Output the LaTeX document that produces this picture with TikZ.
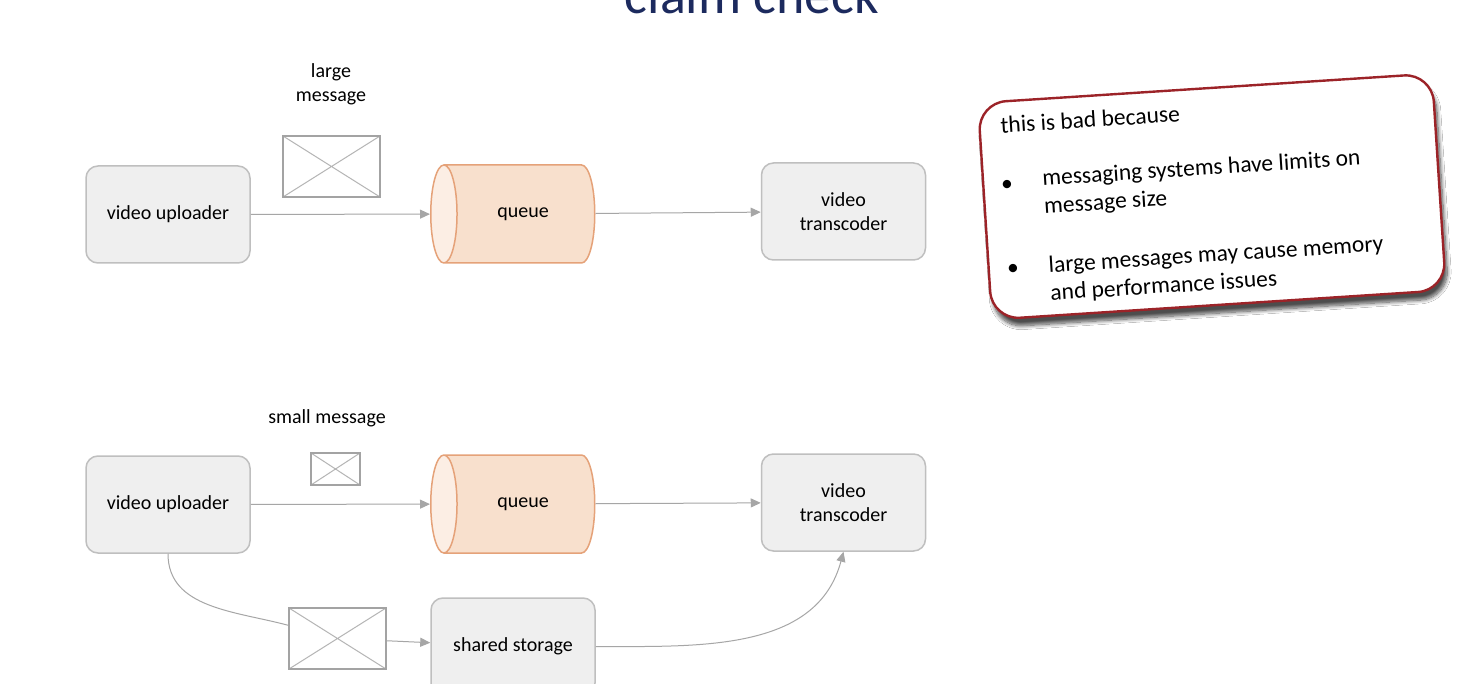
\documentclass[tikz,border=0pt]{standalone}
\usepackage{fontspec}
\setmainfont{Carlito}
\usetikzlibrary{shapes.geometric,arrows.meta,shadows.blur}
\definecolor{titleblue}{HTML}{1C2A5E}
\definecolor{boxfill}{HTML}{EFEFEF}
\definecolor{boxline}{HTML}{BFBFBF}
\definecolor{qfill}{HTML}{F8E0CD}
\definecolor{qend}{HTML}{FCEEE4}
\definecolor{qline}{HTML}{E5A279}
\definecolor{linegray}{HTML}{A6A6A6}
\definecolor{msgline}{HTML}{A3A3A3}
\definecolor{notered}{HTML}{9C2328}

\begin{document}
\begin{tikzpicture}[x=0.5pt, y=-0.5pt,
    txt/.style={font=\fontsize{10}{12}\selectfont, align=center},
    svc/.style={txt, draw=boxline, line width=0.75pt, fill=boxfill, rounded corners=6pt,
      minimum width=82pt, minimum height=48.5pt},
    queue/.style={txt, cylinder, shape border rotate=180, aspect=1, draw=qline,
      line width=0.75pt, cylinder uses custom fill, cylinder body fill=qfill,
      cylinder end fill=qend, minimum width=49pt, minimum height=82pt},
    msg/.style={draw=msgline, line width=1pt, fill=white, inner sep=0pt,
      path picture={\draw[msgline!80, line width=0.5pt]
        (path picture bounding box.north west) -- (path picture bounding box.south east)
        (path picture bounding box.south west) -- (path picture bounding box.north east);}},
    conn/.style={draw=linegray, line width=0.5pt, -{Triangle[length=5pt,width=4.5pt]}},
    link/.style={draw=linegray, line width=0.5pt},
    notetxt/.style={font=\fontsize{11.75}{14}\selectfont, align=left, transform shape, inner sep=0pt}]
    \fill[white] (0,0) rectangle (1473,684);
    \useasboundingbox (0,0) rectangle (1473,684);

    \node[anchor=base, text=titleblue, font=\fontsize{27}{32}\selectfont] (title) at (752,14) {claim check};

    % with a large message
    \node[txt] (lbl1) at (331,84) {large\\message};
    \node[msg, minimum width=48.5pt, minimum height=30.5pt] (m1) at (331.5,166.5) {};
    \node[svc] (up1) at (168,214.5) {video uploader};
    \node[queue] (q1) at (523,214) {queue};
    \node[svc] (tc1) at (843.5,211.5) {video\\transcoder};
    \draw[conn] (up1) -- (q1);
    \draw[conn] (q1) -- (tc1);

    % claim check
    \node[txt] (lbl2) at (327,418) {small message};
    \node[msg, minimum width=24.5pt, minimum height=16pt] (m2) at (335.5,469) {};
    \node[svc] (up2) at (168,504.5) {video uploader};
    \node[queue] (q2) at (523,504) {queue};
    \node[svc] (tc2) at (843.5,502.5) {video\\transcoder};
    \node[svc] (st) at (513,646.5) {shared storage};
    \node[msg, minimum width=48.5pt, minimum height=30.5pt] (m3) at (337.5,638.5) {};
    \draw[conn] (up2) -- (q2);
    \draw[conn] (q2) -- (tc2);
    \draw[link] (up2.south) to[out=-90, in=165] (m3);
    \draw[conn] (m3) -- (st);
    \draw[conn] (st.east) to[out=0, in=-105] (tc2.south);

    % note
    \node[draw=notered, line width=1.2pt, fill=white, rounded corners=14pt, rotate=3.7,
      minimum width=227.5pt, minimum height=108.5pt,
      blur shadow={shadow xshift=1.5pt, shadow yshift=-4pt, shadow blur steps=10, shadow opacity=70}]
      (note) at (1212,196.6) {};
    \begin{scope}[shift={(note.center)}, rotate=3.7]
      \node[notetxt, anchor=west] (t0) at (-206.8,-85) {this is bad because};
      \node[notetxt] (b1) at (-203.7,-24) {\textbullet};
      \node[notetxt, anchor=west] (t1) at (-168.5,-14) {messaging systems have limits on\\message size};
      \node[notetxt] (b2) at (-203.2,60) {\textbullet};
      \node[notetxt, anchor=west] (t2) at (-167.8,73) {large messages may cause memory\\and performance issues};
    \end{scope}
\end{tikzpicture}
\end{document}
